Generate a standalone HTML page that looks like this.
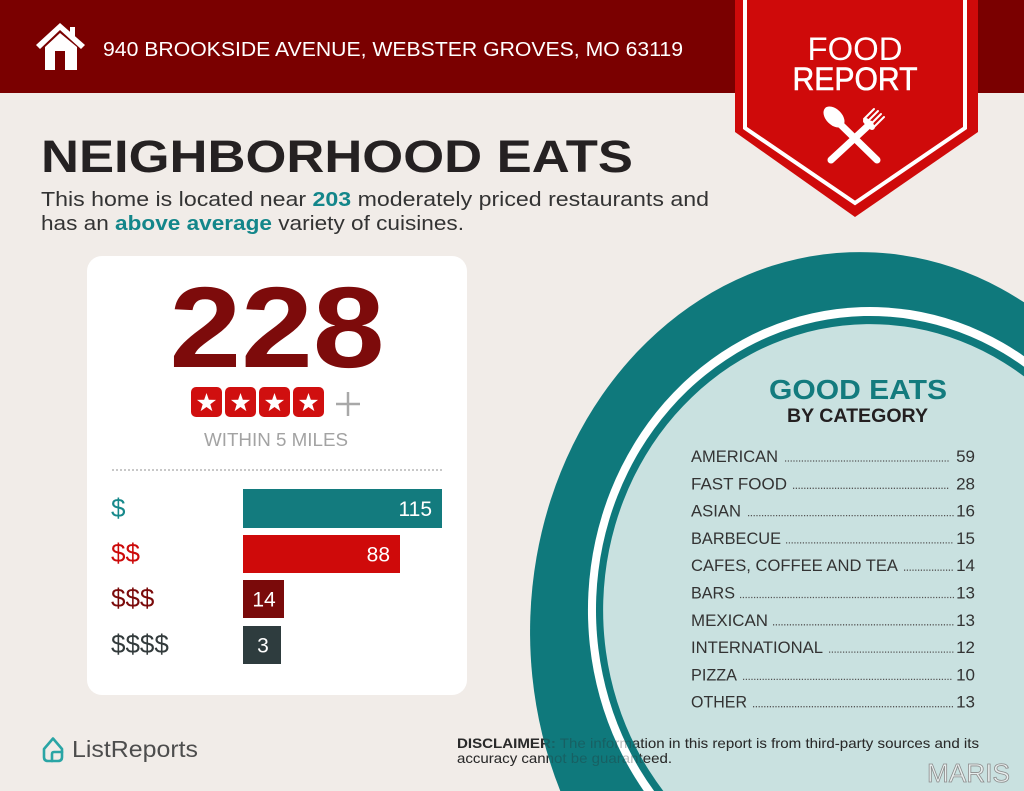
<!DOCTYPE html>
<html>
<head>
<meta charset="utf-8">
<style>
  html, body { margin:0; padding:0; width:1024px; height:791px; overflow:hidden; }
  body { background:#f1ece8; }
  svg { display:block; position:absolute; left:0; top:0; overflow:hidden; }
  text { font-family: "Liberation Sans", Arial, sans-serif; }
</style>
</head>
<body>
<svg width="1024" height="791" viewBox="0 0 1024 791" xmlns="http://www.w3.org/2000/svg">
  <defs>
    <path id="star" d="M0,-10 L2.351,-3.236 L9.511,-3.09 L3.804,1.236 L5.878,8.09 L0,4 L-5.878,8.09 L-3.804,1.236 L-9.511,-3.09 L-2.351,-3.236 Z" fill="#ffffff"/>
    <clipPath id="lightclip"><path d="M663.3,791 A267,286 0 0,1 1024,376.4 L1024,791 Z"/></clipPath>
  </defs>

  <!-- background -->
  <rect x="0" y="0" width="1024" height="791" fill="#f1ece8"/>

  <!-- header -->
  <rect x="0" y="0" width="1024" height="93" fill="#7a0000"/>

  <!-- house icon -->
  <g fill="#ffffff">
    <polygon points="36,45 60,23 85,45 81,49 60,30 40,49"/>
    <rect x="70" y="27" width="5" height="11"/>
    <path d="M45,47 L60,33 L77,47 L77,70 L65,70 L65,51 L55,51 L55,70 L45,70 Z"/>
  </g>
  <text x="103" y="56" font-size="20" fill="#ffffff" textLength="580" lengthAdjust="spacingAndGlyphs">940 BROOKSIDE AVENUE, WEBSTER GROVES, MO 63119</text>

  <!-- food report badge -->
  <polygon points="735,0 978,0 978,132 855,217 735,132" fill="#cf0a0a"/>
  <polyline points="745,0 745,128 855,203 965,128 965,0" fill="none" stroke="#ffffff" stroke-width="4"/>
  <text x="855" y="60" font-size="32" fill="#ffffff" text-anchor="middle" textLength="95" lengthAdjust="spacingAndGlyphs">FOOD</text>
  <text x="855" y="90" font-size="32" fill="#ffffff" stroke="#ffffff" stroke-width="0.6" text-anchor="middle" textLength="125" lengthAdjust="spacingAndGlyphs">REPORT</text>
  <!-- fork & spoon -->
  <g stroke="#ffffff" stroke-linecap="round" fill="none">
    <line x1="870" y1="124" x2="831" y2="160" stroke-width="7"/>
    <g stroke-width="2">
      <line x1="864" y1="119" x2="874" y2="109"/>
      <line x1="867" y1="122" x2="878" y2="111"/>
      <line x1="870" y1="125" x2="881" y2="114"/>
      <line x1="873" y1="128" x2="884" y2="117"/>
    </g>
    <line x1="866" y1="121" x2="872" y2="127" stroke-width="6"/>
    <line x1="840" y1="124" x2="877" y2="160" stroke-width="7"/>
  </g>
  <ellipse cx="834" cy="117" rx="8" ry="12.5" transform="rotate(-45 834 117)" fill="#ffffff"/>

  <!-- heading -->
  <text x="41" y="172" font-size="45" font-weight="bold" fill="#252122" textLength="592" lengthAdjust="spacingAndGlyphs">NEIGHBORHOOD EATS</text>
  <text x="41" y="206" font-size="20" fill="#333333" textLength="668" lengthAdjust="spacingAndGlyphs">This home is located near <tspan font-weight="bold" fill="#13868a">203</tspan> moderately priced restaurants and</text>
  <text x="41" y="230" font-size="20" fill="#333333" textLength="423" lengthAdjust="spacingAndGlyphs">has an <tspan font-weight="bold" fill="#13868a">above average</tspan> variety of cuisines.</text>

  <!-- card -->
  <rect x="87" y="256" width="380" height="439" rx="15" ry="15" fill="#ffffff"/>
  <text x="277" y="367" font-size="115" font-weight="bold" fill="#7d0b0b" text-anchor="middle" textLength="215" lengthAdjust="spacingAndGlyphs">228</text>

  <!-- stars -->
  <g fill="#d00f0f">
    <rect x="191" y="387" width="31" height="30" rx="5"/>
    <rect x="225" y="387" width="31" height="30" rx="5"/>
    <rect x="259" y="387" width="31" height="30" rx="5"/>
    <rect x="293" y="387" width="31" height="30" rx="5"/>
  </g>
  <use href="#star" transform="translate(206.5 403)"/>
  <use href="#star" transform="translate(240.5 403)"/>
  <use href="#star" transform="translate(274.5 403)"/>
  <use href="#star" transform="translate(308.5 403)"/>
  <g stroke="#a8a8a8" stroke-width="2.5">
    <line x1="336" y1="404" x2="360" y2="404"/>
    <line x1="348" y1="392" x2="348" y2="416"/>
  </g>
  <text x="276" y="446" font-size="18" fill="#a3a3a3" text-anchor="middle" textLength="144" lengthAdjust="spacingAndGlyphs">WITHIN 5 MILES</text>

  <line x1="112" y1="470" x2="442" y2="470" stroke="#b5b5b5" stroke-width="1.5" stroke-dasharray="2 2"/>

  <!-- bars -->
  <rect x="243" y="489" width="199" height="39" fill="#137b7e"/>
  <rect x="243" y="535" width="157" height="38" fill="#cf0a0a"/>
  <rect x="243" y="580" width="41" height="38" fill="#7a0a0a"/>
  <rect x="243" y="626" width="38" height="38" fill="#2e3c3e"/>

  <text x="432" y="516" font-size="21" fill="#ffffff" text-anchor="end">115</text>
  <text x="390" y="561.5" font-size="21" fill="#ffffff" text-anchor="end">88</text>
  <text x="264" y="606.5" font-size="21" fill="#ffffff" text-anchor="middle">14</text>
  <text x="263" y="652.5" font-size="21" fill="#ffffff" text-anchor="middle">3</text>

  <text x="111" y="517" font-size="26" fill="#17898b">$</text>
  <text x="111" y="562" font-size="26" fill="#cc0a0a">$$</text>
  <text x="111" y="607" font-size="26" fill="#7a0a0a">$$$</text>
  <text x="111" y="653" font-size="26" fill="#333b3c">$$$$</text>

  <!-- disclaimer (under circle) -->
  <text x="457" y="748" font-size="14" fill="#2a2a2a" textLength="522" lengthAdjust="spacingAndGlyphs"><tspan font-weight="bold">DISCLAIMER:</tspan> The information in this report is from third-party sources and its</text>
  <text x="457" y="763" font-size="14" fill="#2a2a2a" textLength="215" lengthAdjust="spacingAndGlyphs">accuracy cannot be guaranteed.</text>

  <!-- circle (clipped to frame) -->
  <path d="M560.3,791 A330,380 0 0,1 1024,302.3 L1024,791 Z" fill="#0f797c"/>
  <path d="M643.8,791 A282,303 0 0,1 1024,356.2 L1024,791 Z" fill="#ffffff"/>
  <path d="M654.1,791 A274,294 0 0,1 1024,366.8 L1024,791 Z" fill="#0f797c"/>
  <path d="M663.3,791 A267,286 0 0,1 1024,376.4 L1024,791 Z" fill="#c9e1e0"/>

  <!-- disclaimer faint over teal, full over light area -->
  <text x="457" y="748" font-size="14" fill="#2a2a2a" textLength="522" lengthAdjust="spacingAndGlyphs" opacity="0.3"><tspan font-weight="bold">DISCLAIMER:</tspan> The information in this report is from third-party sources and its</text>
  <text x="457" y="763" font-size="14" fill="#2a2a2a" textLength="215" lengthAdjust="spacingAndGlyphs" opacity="0.3">accuracy cannot be guaranteed.</text>
  <g clip-path="url(#lightclip)">
    <text x="457" y="748" font-size="14" fill="#2a2a2a" textLength="522" lengthAdjust="spacingAndGlyphs"><tspan font-weight="bold">DISCLAIMER:</tspan> The information in this report is from third-party sources and its</text>
    <text x="457" y="763" font-size="14" fill="#2a2a2a" textLength="215" lengthAdjust="spacingAndGlyphs">accuracy cannot be guaranteed.</text>
  </g>

  <!-- good eats -->
  <text x="858" y="399" font-size="28" font-weight="bold" fill="#137b7e" text-anchor="middle" textLength="178" lengthAdjust="spacingAndGlyphs">GOOD EATS</text>
  <text x="857.5" y="422" font-size="19" font-weight="bold" fill="#231f20" text-anchor="middle" textLength="141" lengthAdjust="spacingAndGlyphs">BY CATEGORY</text>

  <g font-size="17" fill="#333333">
    <text x="691" y="462" textLength="87" lengthAdjust="spacingAndGlyphs">AMERICAN</text>
    <text x="691" y="489.3" textLength="96" lengthAdjust="spacingAndGlyphs">FAST FOOD</text>
    <text x="691" y="516.6" textLength="50" lengthAdjust="spacingAndGlyphs">ASIAN</text>
    <text x="691" y="543.9" textLength="90" lengthAdjust="spacingAndGlyphs">BARBECUE</text>
    <text x="691" y="571.2" textLength="207" lengthAdjust="spacingAndGlyphs">CAFES, COFFEE AND TEA</text>
    <text x="691" y="598.5" textLength="44" lengthAdjust="spacingAndGlyphs">BARS</text>
    <text x="691" y="625.8" textLength="77" lengthAdjust="spacingAndGlyphs">MEXICAN</text>
    <text x="691" y="653.1" textLength="132" lengthAdjust="spacingAndGlyphs">INTERNATIONAL</text>
    <text x="691" y="680.4" textLength="46" lengthAdjust="spacingAndGlyphs">PIZZA</text>
    <text x="691" y="707.7" textLength="56" lengthAdjust="spacingAndGlyphs">OTHER</text>
  </g>
  <g font-size="17" fill="#333333" text-anchor="end">
    <text x="975" y="462">59</text>
    <text x="975" y="489.3">28</text>
    <text x="975" y="516.6">16</text>
    <text x="975" y="543.9">15</text>
    <text x="975" y="571.2">14</text>
    <text x="975" y="598.5">13</text>
    <text x="975" y="625.8">13</text>
    <text x="975" y="653.1">12</text>
    <text x="975" y="680.4">10</text>
    <text x="975" y="707.7">13</text>
  </g>
  <g stroke="#555555" stroke-width="1.3" stroke-dasharray="1.2 1.6">
    <line x1="785" y1="461" x2="949" y2="461"/>
    <line x1="793" y1="488.3" x2="949" y2="488.3"/>
    <line x1="748" y1="515.6" x2="954" y2="515.6"/>
    <line x1="786" y1="542.9" x2="954" y2="542.9"/>
    <line x1="904" y1="570.2" x2="954" y2="570.2"/>
    <line x1="740" y1="597.5" x2="954" y2="597.5"/>
    <line x1="773" y1="624.8" x2="954" y2="624.8"/>
    <line x1="829" y1="652.1" x2="954" y2="652.1"/>
    <line x1="743" y1="679.4" x2="952" y2="679.4"/>
    <line x1="753" y1="706.7" x2="954" y2="706.7"/>
  </g>

  <!-- ListReports logo -->
  <g fill="none" stroke="#2aa5a5" stroke-width="2.6" stroke-linejoin="round" stroke-linecap="round">
    <path d="M44,749 L53,738.5 L62,749 L62,757 Q62,761 58,761 L48,761 Q44,761 44,757 Z"/>
    <path d="M52,761 L52,754 Q52,752 54,752 L62,752"/>
  </g>
  <text x="72" y="757" font-size="23" fill="#4d4d4d" textLength="126" lengthAdjust="spacingAndGlyphs">ListReports</text>

  <!-- MARIS watermark -->
  <text x="927" y="782" font-size="26" fill="#e8eeee" stroke="#8c8c8c" stroke-width="0.8" textLength="83" lengthAdjust="spacingAndGlyphs">MARIS</text>
</svg>
</body>
</html>
